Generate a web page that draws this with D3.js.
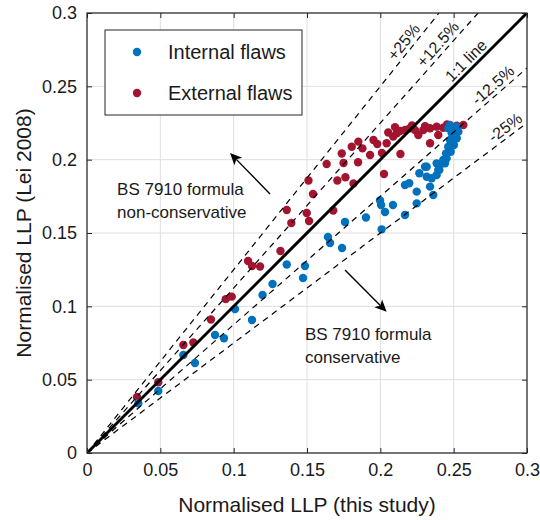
<!DOCTYPE html>
<html><head><meta charset="utf-8">
<script src="https://cdn.jsdelivr.net/npm/d3@7"></script>
<style>body{margin:0;background:#fff;} svg text{font-family:"Liberation Sans",Arial,Helvetica,sans-serif;fill:#1a1a1a;}</style>
</head><body><svg id="c" width="540" height="520"></svg>
<script>
// ---- data ----
const tickValues = [0, 0.05, 0.1, 0.15, 0.2, 0.25, 0.3];
const tickLabels = ["0", "0.05", "0.1", "0.15", "0.2", "0.25", "0.3"];
const seriesNames = ["Internal flaws", "External flaws"];
const internalFlaws = [
 [0.0350,0.0339],[0.0486,0.0423],[0.0657,0.0668],[0.0736,0.0614],[0.0873,0.0805],[0.0934,0.0782],
 [0.1009,0.0982],[0.1125,0.0907],[0.1197,0.1077],[0.1265,0.1152],[0.1362,0.1285],[0.1486,0.1275],
 [0.1473,0.1193],[0.1643,0.1473],[0.1657,0.1432],[0.1739,0.1398],[0.1759,0.1575],[0.1902,0.1606],
 [0.1998,0.1722],[0.2005,0.1691],[0.2009,0.1525],[0.2032,0.1643],[0.2086,0.1691],[0.2168,0.1623],
 [0.2168,0.1827],[0.2197,0.1839],[0.2248,0.1782],[0.2248,0.1702],[0.2361,0.1759],[0.2266,0.1907],
 [0.2305,0.1952],[0.2316,0.1884],[0.2350,0.1873],[0.2339,0.1816],[0.2384,0.1975],[0.2402,0.1930],
 [0.2429,0.1998],[0.2448,0.2043],[0.2463,0.2088],[0.2475,0.2134],[0.2487,0.2180],[0.2497,0.2214],
 [0.2521,0.2225],[0.2532,0.2191],[0.2521,0.2146],[0.2502,0.2100],[0.2480,0.2054],[0.2452,0.2009],
 [0.2463,0.2214],[0.2475,0.2236],[0.2441,0.1975],[0.2407,0.1964],[0.2395,0.1930],[0.2384,0.1895],
 [0.2316,0.1952]
];
const externalFlaws = [
 [0.0341,0.0382],[0.0486,0.0482],[0.0657,0.0736],[0.0725,0.0753],[0.0845,0.0910],[0.0946,0.1049],
 [0.0987,0.1066],[0.1098,0.1309],[0.1125,0.1275],[0.1180,0.1272],[0.1319,0.1377],[0.1362,0.1657],
 [0.1393,0.1568],[0.1498,0.1636],[0.1514,0.1582],[0.1510,0.1858],[0.1541,0.1766],[0.1634,0.1970],
 [0.1679,0.1653],[0.1707,0.1858],[0.1762,0.1880],[0.1817,0.1837],[0.1737,0.2042],[0.1749,0.1977],
 [0.1805,0.2088],[0.1850,0.2123],[0.1878,0.2077],[0.1848,0.1982],[0.1930,0.2032],[0.1953,0.2134],
 [0.1979,0.2107],[0.2011,0.2045],[0.2025,0.1902],[0.2043,0.2112],[0.2054,0.2185],[0.2088,0.2157],
 [0.2112,0.2180],[0.2137,0.2039],[0.2134,0.2195],[0.2168,0.2202],[0.2202,0.2214],[0.2236,0.2202],
 [0.2259,0.2168],[0.2293,0.2202],[0.2339,0.2214],[0.2384,0.2225],[0.2429,0.2218],[0.2475,0.2225],
 [0.2521,0.2232],[0.2566,0.2236],[0.2339,0.2112],[0.2395,0.2168],[0.2100,0.2222],[0.2216,0.2233],
 [0.2305,0.2229],[0.2455,0.2240]
];
const boundFactors = [1.25, 1.125, 1, 0.875, 0.75];
const boundLabels = ["+25%", "+12.5%", "1:1 line", "-12.5%", "-25%"];
const boundLabelAt = [0.221, 0.244, 0.263, 0.281, 0.289];
const noteLines = [["BS 7910 formula", "non-conservative"], ["BS 7910 formula", "conservative"]];

// ---- layout ----
const m = {l: 87, t: 13, w: 440, h: 440};
const colors = ["#0072BD", "#A2142F"];
const R = 4.2;
const svg = d3.select("#c");
const x = d3.scaleLinear().domain([0, 0.3]).range([m.l, m.l + m.w]);
const y = d3.scaleLinear().domain([0, 0.3]).range([m.t + m.h, m.t]);

svg.append("defs").append("clipPath").attr("id", "clip")
  .append("rect").attr("x", m.l).attr("y", m.t).attr("width", m.w).attr("height", m.h);

// grid
const grid = svg.append("g");
grid.selectAll(".gx").data(tickValues).join("line")
  .attr("x1", d => x(d)).attr("x2", d => x(d)).attr("y1", m.t).attr("y2", m.t + m.h)
  .attr("stroke", "#dedede").attr("stroke-width", 1);
grid.selectAll(".gy").data(tickValues).join("line")
  .attr("y1", d => y(d)).attr("y2", d => y(d)).attr("x1", m.l).attr("x2", m.l + m.w)
  .attr("stroke", "#dedede").attr("stroke-width", 1);

// points
const pts = svg.append("g").attr("clip-path", "url(#clip)");
pts.selectAll(".ext").data(externalFlaws).join("circle")
  .attr("cx", d => x(d[0])).attr("cy", d => y(d[1])).attr("r", R).attr("fill", colors[1]);
pts.selectAll(".int").data(internalFlaws).join("circle")
  .attr("cx", d => x(d[0])).attr("cy", d => y(d[1])).attr("r", R).attr("fill", colors[0]);

// bound lines
const lines = svg.append("g").attr("clip-path", "url(#clip)");
boundFactors.forEach(k => {
  const xe = Math.min(0.3, 0.3 / k);
  lines.append("line").attr("x1", x(0)).attr("y1", y(0)).attr("x2", x(xe)).attr("y2", y(xe * k))
    .attr("stroke", "#000").attr("stroke-width", k === 1 ? 3 : 1.2)
    .attr("stroke-dasharray", k === 1 ? null : "6,5");
});
// bound labels
boundFactors.forEach((k, i) => {
  const px = x(boundLabelAt[i]), py = y(boundLabelAt[i] * k);
  const ang = -Math.atan2(y(0) - y(k * 0.1), x(0.1) - x(0)) * 180 / Math.PI;
  svg.append("text").attr("transform", `translate(${px},${py}) rotate(${ang})`)
    .attr("text-anchor", "middle").attr("dy", -4).attr("font-size", 16).text(boundLabels[i]);
});

// axes box and ticks
const tickLen = 5;
const axB = d3.axisBottom(x).tickValues(tickValues).tickFormat((d, i) => tickLabels[i]).tickSizeInner(-tickLen).tickSizeOuter(0).tickPadding(10);
const axL = d3.axisLeft(y).tickValues(tickValues).tickFormat((d, i) => tickLabels[i]).tickSizeInner(-tickLen).tickSizeOuter(0).tickPadding(10);
const axT = d3.axisTop(x).tickValues(tickValues).tickFormat("").tickSizeInner(-tickLen).tickSizeOuter(0);
const axR = d3.axisRight(y).tickValues(tickValues).tickFormat("").tickSizeInner(-tickLen).tickSizeOuter(0);
function style(g) {
  g.select(".domain").remove();
  g.selectAll("line").attr("stroke", "#262626");
  g.selectAll("text").attr("font-size", 18).attr("fill", "#262626")
    .style("font-family", '"Liberation Sans",Arial,sans-serif');
}
svg.append("g").attr("transform", `translate(0,${m.t + m.h})`).call(axB).call(style);
svg.append("g").attr("transform", `translate(${m.l},0)`).call(axL).call(style);
svg.append("g").attr("transform", `translate(0,${m.t})`).call(axT).call(style);
svg.append("g").attr("transform", `translate(${m.l + m.w},0)`).call(axR).call(style);
svg.append("rect").attr("x", m.l).attr("y", m.t).attr("width", m.w).attr("height", m.h)
  .attr("fill", "none").attr("stroke", "#262626").attr("stroke-width", 1.2);

// axis titles
svg.append("text").attr("x", m.l + m.w / 2).attr("y", 512).attr("text-anchor", "middle")
  .attr("font-size", 21).text("Normalised LLP (this study)");
svg.append("text").attr("transform", `translate(31,${m.t + m.h / 2}) rotate(-90)`)
  .attr("text-anchor", "middle").attr("font-size", 21).text("Normalised LLP (Lei 2008)");

// legend
const lg = svg.append("g");
lg.append("rect").attr("x", 105).attr("y", 30).attr("width", 197).attr("height", 85)
  .attr("fill", "#fff").attr("stroke", "#262626").attr("stroke-width", 1);
seriesNames.forEach((n, i) => {
  lg.append("circle").attr("cx", 137).attr("cy", 52 + i * 41).attr("r", R).attr("fill", colors[i]);
  lg.append("text").attr("x", 168).attr("y", 52 + i * 41).attr("dy", "0.36em").attr("font-size", 20).text(n);
});

// annotations
function arrow(x1, y1, x2, y2) {
  const a = Math.atan2(y2 - y1, x2 - x1);
  const L = 12, W = 5.5, N = 9;
  const bx = x2 - L * Math.cos(a), by = y2 - L * Math.sin(a);
  const nx = x2 - N * Math.cos(a), ny = y2 - N * Math.sin(a);
  svg.append("line").attr("x1", x1).attr("y1", y1).attr("x2", nx).attr("y2", ny)
    .attr("stroke", "#000").attr("stroke-width", 1.4);
  const p = [[x2, y2], [bx + W * Math.sin(a), by - W * Math.cos(a)], [nx, ny], [bx - W * Math.sin(a), by + W * Math.cos(a)]];
  svg.append("path").attr("d", "M" + p.map(q => q.join(",")).join("L") + "Z").attr("fill", "#000");
}
arrow(x(0.1248), y(0.1766), x(0.0975), y(0.2046));
arrow(x(0.1759), y(0.1248), x(0.2043), y(0.0963));
noteLines[0].forEach((t, i) => svg.append("text").attr("x", x(0.0205)).attr("y", y(0.1759) + i * 23).attr("font-size", 17).text(t));
noteLines[1].forEach((t, i) => svg.append("text").attr("x", x(0.1486)).attr("y", y(0.0770) + i * 23).attr("font-size", 17).text(t));
</script></body></html>
